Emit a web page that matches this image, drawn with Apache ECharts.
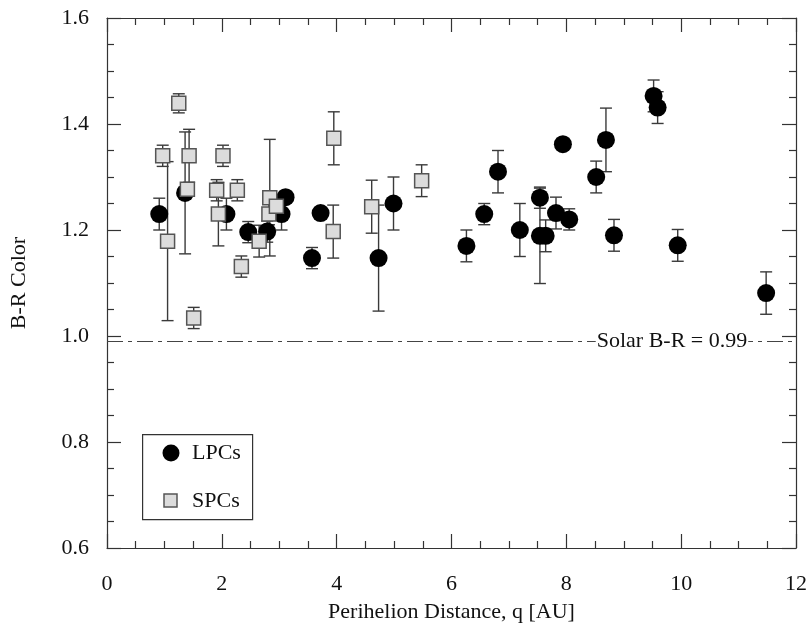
<!DOCTYPE html>
<html><head><meta charset="utf-8">
<script src="https://cdn.jsdelivr.net/npm/echarts@6/dist/echarts.min.js"></script>
<style>html,body{margin:0;padding:0;background:#fff}#c{width:810px;height:628px}</style>
</head><body><div id="c"></div>
<script>
var lpcQ  = [0.91,1.36,2.08,2.46,2.79,3.04,3.11,3.57,3.72,4.73,4.99,6.26,6.57,6.81,7.19,7.54,7.54,7.64,7.82,7.94,8.05,8.52,8.69,8.83,9.52,9.59,9.94,11.48];
var lpcBR = [1.23,1.27,1.23,1.196,1.197,1.23,1.262,1.147,1.232,1.147,1.25,1.17,1.23,1.31,1.20,1.261,1.189,1.189,1.232,1.362,1.22,1.30,1.37,1.19,1.453,1.431,1.171,1.081];
var lpcErr= [0.03,0.115,0.03,0.02,0.02,0.03,0,0.02,0,0.10,0.05,0.03,0.02,0.04,0.05,0.02,0.09,0.03,0.03,0,0.02,0.03,0.06,0.03,0.03,0.03,0.03,0.04];
var spcQ  = [0.97,1.055,1.25,1.40,1.43,1.51,1.91,1.94,2.02,2.27,2.34,2.65,2.82,2.835,2.95,3.94,3.95,4.61,5.48];
var spcBR = [1.34,1.179,1.439,1.277,1.34,1.034,1.275,1.23,1.34,1.275,1.131,1.179,1.23,1.261,1.245,1.197,1.373,1.244,1.293];
var spcErr= [0.02,0.15,0.018,0.01,0.05,0.02,0.02,0.06,0.02,0.02,0.02,0.03,0.02,0.11,0.02,0.05,0.05,0.05,0.03];
var solarBR = 0.99;
var solarLabel = 'Solar B-R = 0.99';
var legendNames = ['LPCs','SPCs'];
var xTicks = [0,2,4,6,8,10,12];
var yTicks = [0.6,0.8,1.0,1.2,1.4,1.6];

var F = 'Liberation Serif';
function zip3(a,b,c){var r=[];for(var i=0;i<a.length;i++)r.push([a[i],b[i],c[i]]);return r;}
function zip2(a,b){var r=[];for(var i=0;i<a.length;i++)r.push([a[i],b[i]]);return r;}
function errRender(params, api){
  var x=api.value(0), y=api.value(1), e=api.value(2);
  if(!e) return null;
  var top=api.coord([x,y+e]), bot=api.coord([x,y-e]);
  var h=6, st={stroke:'#3a3a3a', lineWidth:1.4};
  return {type:'group', children:[
    {type:'line', shape:{x1:top[0],y1:top[1],x2:bot[0],y2:bot[1]}, style:st},
    {type:'line', shape:{x1:top[0]-h,y1:top[1],x2:top[0]+h,y2:top[1]}, style:st},
    {type:'line', shape:{x1:bot[0]-h,y1:bot[1],x2:bot[0]+h,y2:bot[1]}, style:st}
  ]};
}
var axisCommon = {
  axisLine:{show:true, onZero:false, lineStyle:{color:'#333', width:1.2}},
  axisTick:{show:true, inside:true, length:14, lineStyle:{color:'#333', width:1.2}},
  minorTick:{show:true, splitNumber:4, length:7, lineStyle:{color:'#333', width:1.2}},
  splitLine:{show:false}
};
function ax(o){ return Object.assign({}, JSON.parse(JSON.stringify(axisCommon)), o); }
var chart = echarts.init(document.getElementById('c'), null, {renderer:'canvas'});
chart.setOption({
  animation:false,
  backgroundColor:'#fff',
  grid:{left:107, right:13, top:18, bottom:80},
  xAxis:[
    ax({type:'value', min:xTicks[0], max:xTicks[xTicks.length-1], interval:2, position:'bottom',
      axisLabel:{margin:25, fontFamily:F, fontSize:22, color:'#111'},
      name:'Perihelion Distance, q [AU]', nameLocation:'middle', nameGap:53,
      nameTextStyle:{fontFamily:F, fontSize:22, color:'#111'}}),
    ax({type:'value', min:0, max:12, interval:2, position:'top', axisLabel:{show:false}})
  ],
  yAxis:[
    ax({type:'value', min:yTicks[0], max:yTicks[yTicks.length-1], interval:0.2, position:'left',
      axisLabel:{margin:18, fontFamily:F, fontSize:22, color:'#111', formatter:function(v){return v.toFixed(1);}},
      name:'B-R Color', nameLocation:'middle', nameGap:77,
      nameTextStyle:{fontFamily:F, fontSize:22, color:'#111'}}),
    ax({type:'value', min:0.6, max:1.6, interval:0.2, position:'right', axisLabel:{show:false}})
  ],
  graphic:[
    {type:'rect', left:142, top:434, shape:{width:110, height:85}, style:{fill:'#fff', stroke:'#333', lineWidth:1.2}, z:10},
    {type:'circle', shape:{cx:171, cy:453, r:8.5}, style:{fill:'#000'}, z:11},
    {type:'text', left:192, top:442, style:{text:legendNames[0], font:'22px "Liberation Serif"', fill:'#111'}, z:11},
    {type:'rect', shape:{x:164, y:494, width:13, height:13}, style:{fill:'#dcdcdc', stroke:'#555', lineWidth:1.5}, z:11},
    {type:'text', left:192, top:490, style:{text:legendNames[1], font:'22px "Liberation Serif"', fill:'#111'}, z:11}
  ],
  series:[
    {type:'custom', name:'lpcErr', renderItem:errRender, data:zip3(lpcQ,lpcBR,lpcErr), z:2, silent:true,
      encode:{x:0,y:1}},
    {type:'custom', name:'spcErr', renderItem:errRender, data:zip3(spcQ,spcBR,spcErr), z:2, silent:true,
      encode:{x:0,y:1}},
    {type:'scatter', name:'LPCs', data:zip2(lpcQ,lpcBR), symbol:'circle', symbolSize:18, z:3,
      itemStyle:{color:'#000', opacity:1},
      markLine:{silent:true, symbol:['none','none'],
        lineStyle:{color:'#444', width:1.2, type:[16,5,4,5]},
        label:{show:false},
        data:[{yAxis:solarBR}]},
      markPoint:{silent:true, symbol:'rect', symbolSize:0,
        data:[{coord:[9.84, solarBR], value:solarLabel}],
        label:{show:true, position:'inside', formatter:solarLabel, fontFamily:F, fontSize:22, color:'#111',
          backgroundColor:'#fff', padding:[0,1]}}
    },
    {type:'scatter', name:'SPCs', data:zip2(spcQ,spcBR), symbol:'rect', symbolSize:14, z:4,
      itemStyle:{color:'#dcdcdc', borderColor:'#555', borderWidth:1.5, opacity:1}}
  ]
});
</script></body></html>
